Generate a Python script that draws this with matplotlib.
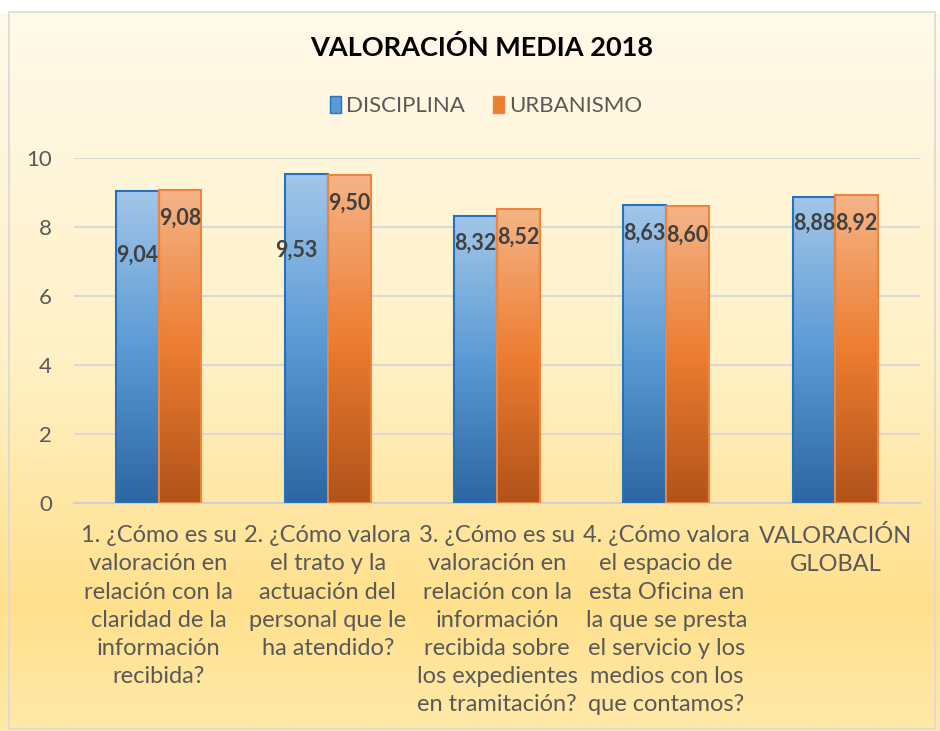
import numpy as np
import matplotlib
matplotlib.use('Agg')
import matplotlib.pyplot as plt
from matplotlib import colors
from matplotlib.patches import Rectangle

plt.rcParams['font.family'] = ['Lato', 'DejaVu Sans']

categories = [
    '1. ¿Cómo es su\nvaloración en\nrelación con la\nclaridad de la\ninformación\nrecibida?',
    '2. ¿Cómo valora\nel trato y la\nactuación del\npersonal que le\nha atendido?',
    '3. ¿Cómo es su\nvaloración en\nrelación con la\ninformación\nrecibida sobre\nlos expedientes\nen tramitación?',
    '4. ¿Cómo valora\nel espacio de\nesta Oficina en\nla que se presta\nel servicio y los\nmedios con los\nque contamos?',
    'VALORACIÓN\nGLOBAL',
]
disciplina = [9.04, 9.53, 8.32, 8.63, 8.88]
urbanismo = [9.08, 9.50, 8.52, 8.60, 8.92]
series_names = ['DISCIPLINA', 'URBANISMO']
y_ticks = [0, 2, 4, 6, 8, 10]

# where the value labels sit (data units), as placed in the original chart
label_y_disc = [7.19, 7.33, 7.54, 7.83, 8.12]
label_y_urb = [8.26, 8.70, 7.71, 7.77, 8.12]
label_dx_disc = [0, -0.06, 0, 0, 0]

fig = plt.figure(figsize=(9.4, 7.31), dpi=100)

# background gradient
bg = fig.add_axes([0, 0, 1, 1], zorder=-10)
bg_cmap = colors.LinearSegmentedColormap.from_list(
    'bg', [(0, '#FFFAEC'), (0.5, '#FFF0C4'), (0.83, '#FFE08C'), (1, '#FFEAAA')])
grad = np.linspace(0, 1, 256).reshape(-1, 1)
bg.imshow(grad, cmap=bg_cmap, aspect='auto', extent=[0, 1, 0, 1], origin='upper')
bg.add_patch(Rectangle((0, 1 - 12 / 731), 1, 12 / 731, color='white', zorder=2))
bg.add_patch(Rectangle((9 / 940, 2 / 731), 926 / 940, 717 / 731, fill=False,
                       edgecolor='#D9D9D9', lw=1.2, zorder=3))
bg.set_xlim(0, 1)
bg.set_ylim(0, 1)
bg.axis('off')

ax = fig.add_axes([74 / 940, 1 - 503 / 731, 846 / 940, 345 / 731])
ax.patch.set_alpha(0)

x = np.arange(len(categories))
w = 0.253
blue_cmap = colors.LinearSegmentedColormap.from_list('b', ['#2C66A3', '#5B9BD5', '#A3C6E9'])
orange_cmap = colors.LinearSegmentedColormap.from_list('o', ['#B1531A', '#ED7D31', '#F5B487'])

bars_b = ax.bar(x - w / 2, disciplina, w, facecolor='none', edgecolor='#1F72C4', lw=1.5, zorder=3)
bars_o = ax.bar(x + w / 2, urbanismo, w, facecolor='none', edgecolor='#F0843A', lw=1.5, zorder=3)

for bars, cmap in [(bars_b, blue_cmap), (bars_o, orange_cmap)]:
    for bar in bars:
        x0, y0 = bar.get_x(), bar.get_y()
        im = ax.imshow(grad[::-1], cmap=cmap, aspect='auto', origin='upper',
                       extent=[x0, x0 + bar.get_width(), y0, y0 + bar.get_height()], zorder=2)
        im.set_clip_path(bar)

for i in range(len(categories)):
    ax.text(x[i] - w / 2 + label_dx_disc[i], label_y_disc[i], f'{disciplina[i]:.2f}'.replace('.', ','),
            ha='center', va='center', fontsize=15.5, fontweight='bold', color='#404040', zorder=5)
    ax.text(x[i] + w / 2, label_y_urb[i], f'{urbanismo[i]:.2f}'.replace('.', ','),
            ha='center', va='center', fontsize=15.5, fontweight='bold', color='#404040', zorder=5)

ax.set_xlim(-0.5, len(categories) - 0.5)
ax.set_ylim(0, 10)
ax.set_yticks(y_ticks)
ax.set_yticklabels([str(t) for t in y_ticks], fontsize=16, color='#595959')
ax.set_xticks(x)
ax.set_xticklabels(categories, fontsize=17, color='#595959', linespacing=1.42)
ax.tick_params(length=0)
ax.tick_params(axis='y', pad=16)
ax.tick_params(axis='x', pad=16)
ax.grid(axis='y', color='#D9D9D9', lw=1.5, zorder=0)
ax.set_axisbelow(True)
for s in ['top', 'right', 'left']:
    ax.spines[s].set_visible(False)
ax.spines['bottom'].set_color('#D0D0D0')
ax.spines['bottom'].set_linewidth(1.5)

fig.text(0.512, 1 - 48 / 731, 'VALORACIÓN MEDIA 2018', ha='center', va='center',
         fontsize=19.5, fontweight='bold', color='black')

# legend
handles = [Rectangle((0, 0), 1, 1, facecolor='#5B9BD5', edgecolor='#1F72C4'),
           Rectangle((0, 0), 1, 1, facecolor='#ED7D31', edgecolor='#F0843A')]
fig.legend(handles, series_names, loc='center', bbox_to_anchor=(0.517, 1 - 106 / 731), ncol=2,
           frameon=False, fontsize=16, labelcolor='#595959', handlelength=0.5, handleheight=0.8,
           handletextpad=0.2, columnspacing=1.3)

plt.savefig('out.png', dpi=100)
